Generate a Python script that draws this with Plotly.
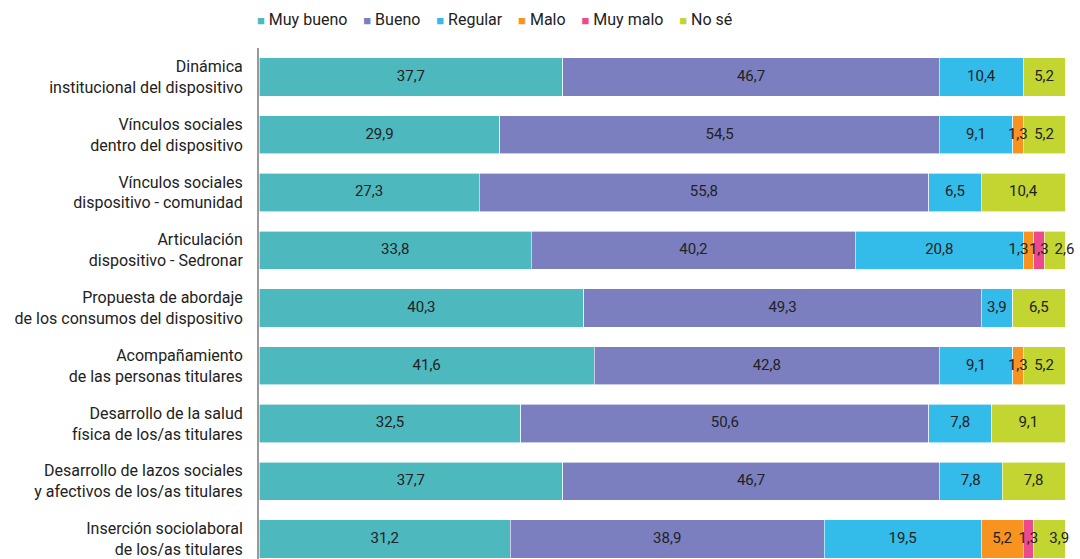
import plotly.graph_objects as go

categories = [
    "Dinámica<br>institucional del dispositivo",
    "Vínculos sociales<br>dentro del dispositivo",
    "Vínculos sociales<br>dispositivo - comunidad",
    "Articulación<br>dispositivo - Sedronar",
    "Propuesta de abordaje<br>de los consumos del dispositivo",
    "Acompañamiento<br>de las personas titulares",
    "Desarrollo de la salud<br>física de los/as titulares",
    "Desarrollo de lazos sociales<br>y afectivos de los/as titulares",
    "Inserción sociolaboral<br>de los/as titulares",
]

muy_bueno = [37.7, 29.9, 27.3, 33.8, 40.3, 41.6, 32.5, 37.7, 31.2]
bueno     = [46.7, 54.5, 55.8, 40.2, 49.3, 42.8, 50.6, 46.7, 38.9]
regular   = [10.4, 9.1, 6.5, 20.8, 3.9, 9.1, 7.8, 7.8, 19.5]
malo      = [0, 1.3, 0, 1.3, 0, 1.3, 0, 0, 5.2]
muy_malo  = [0, 0, 0, 1.3, 0, 0, 0, 0, 1.3]
no_se     = [5.2, 5.2, 10.4, 2.6, 6.5, 5.2, 9.1, 7.8, 3.9]

series_names = ["Muy bueno", "Bueno", "Regular", "Malo", "Muy malo", "No sé"]
series_values = [muy_bueno, bueno, regular, malo, muy_malo, no_se]
series_colors = ["#4db8bd", "#7b7fc0", "#33bbea", "#f7931e", "#ec4a8a", "#c2d530"]

def fmt(v):
    return f"{v:.1f}".replace(".", ",")

fig = go.Figure()
for name, vals, color in zip(series_names, series_values, series_colors):
    fig.add_trace(go.Bar(
        y=categories, x=vals, name=name, orientation="h",
        marker=dict(color=color, line=dict(color="white", width=0.6)),
        hoverinfo="skip", showlegend=False,
    ))

# value labels on top of all bars, centred on each segment;
# crowded narrow segments nudge their label aside
lab_x, lab_y, lab_t, lab_p = [], [], [], []
n_series = len(series_values)
for i, cat in enumerate(categories):
    cum = 0.0
    for s, vals in enumerate(series_values):
        v = vals[i]
        if v > 0:
            nxt = series_values[s + 1][i] if s + 1 < n_series else 0
            prv = series_values[s - 1][i] if s > 0 else 0
            pos = "middle center"
            if v < 2 and 0 < nxt < 2:
                pos = "middle left"
            elif s == n_series - 1 and v < 5 and 0 < prv < 2:
                pos = "middle right"
            lab_x.append(cum + v / 2)
            lab_y.append(cat)
            lab_t.append(fmt(v))
            lab_p.append(pos)
        cum += v
fig.add_trace(go.Scatter(
    x=lab_x, y=lab_y, text=lab_t, mode="text",
    textposition=lab_p,
    textfont=dict(color="#222222", size=15, family="Roboto"),
    hoverinfo="skip", showlegend=False, cliponaxis=False,
))

# legend row drawn as text (small coloured squares + names)
legend_parts = []
for name, color in zip(series_names, series_colors):
    legend_parts.append(
        f"<span style='color:{color};font-size:13px'>■</span>\u00a0{name}"
    )
legend_text = "\u00a0\u00a0\u00a0\u00a0".join(legend_parts)

fig.add_annotation(
    text=legend_text, xref="paper", yref="paper",
    x=-0.0055, y=1.0548, xanchor="left", yanchor="middle",
    showarrow=False, font=dict(size=16, color="#222222", family="Roboto"),
)

fig.update_layout(
    barmode="stack",
    bargap=0.34,
    width=1080, height=559,
    margin=dict(l=259, r=15, t=48, b=0, autoexpand=False),
    paper_bgcolor="white", plot_bgcolor="white",
    font=dict(family="Roboto", size=16, color="#222222"),
    xaxis=dict(range=[0, 100], visible=False, fixedrange=True),
    yaxis=dict(
        range=[8.346, -0.502], showline=True, linecolor="#999999", linewidth=2,
        ticks="", ticklabelstandoff=11, showgrid=False, zeroline=False,
        automargin=False, fixedrange=True,
        tickfont=dict(size=16, color="#222222"),
    ),
)

fig.write_html(
    "out.html",
    config={"displayModeBar": False},
    post_script="document.body.style.margin='0';document.body.style.overflow='hidden';",
)
